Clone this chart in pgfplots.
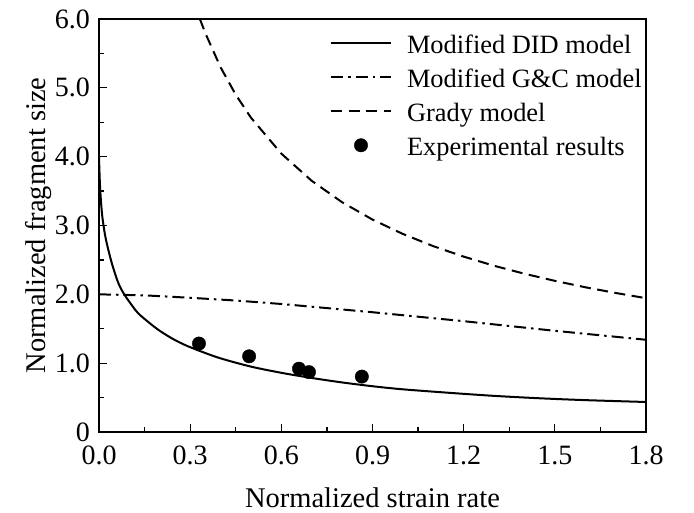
\documentclass[border=0pt]{standalone}
\usepackage{fontspec}
\setmainfont{Liberation Serif}
\usepackage{pgfplots}
\pgfplotsset{compat=1.18}
\begin{document}
\begin{tikzpicture}
\path[use as bounding box] (0,0) rectangle (694bp,513bp);
\begin{axis}[
  at={(99bp,81bp)}, anchor=south west,
  scale only axis, width=547bp, height=413bp,
  xmin=0, xmax=1.8, ymin=0, ymax=6,
  xtick={0,0.3,0.6,0.9,1.2,1.5,1.8},
  xticklabels={0.0,0.3,0.6,0.9,1.2,1.5,1.8},
  minor xtick={0.15,0.45,0.75,1.05,1.35,1.65},
  ytick={0,1,2,3,4,5,6},
  yticklabels={0,1.0,2.0,3.0,4.0,5.0,6.0},
  minor ytick={0.5,1.5,2.5,3.5,4.5,5.5},
  xtick pos=bottom, ytick pos=left,
  tick align=inside,
  major tick length=8bp, minor tick length=4.5bp,
  axis line style={line width=1.3bp},
  every tick/.style={black, line width=1.2bp},
  tick label style={font=\fontsize{28bp}{32bp}\selectfont},
  xticklabel style={inner sep=0pt, anchor=north, yshift=-14bp},
  yticklabel style={inner sep=0pt, anchor=east, xshift=-9bp},
  label style={font=\fontsize{28.5bp}{32bp}\selectfont},
  xlabel={Normalized strain rate},
  ylabel={Normalized fragment size},
  xlabel style={at={(axis description cs:0.5,-0.183)}, anchor=base, inner sep=0pt},
  ylabel style={at={(axis description cs:-0.0987,0.5)}, anchor=base, rotate=0},
  legend cell align=left,
  legend style={draw=none, fill=none, inner sep=0pt, outer sep=0pt,
    at={(axis description cs:0.4223,0.9654)}, anchor=north west,
    row sep=14bp,
    font=\fontsize{26.4bp}{30bp}\selectfont,
    /tikz/every odd column/.append style={column sep=15bp},
    nodes={inner xsep=0pt, inner ysep=0pt, text height=20bp, text depth=0bp}},
  legend image code/.code={\draw[#1] (0bp,0bp) -- (60bp,0bp);},
]
\addplot[black, line width=2bp, smooth, tension=0.5] coordinates {
(0,4.00) (0.001,3.85) (0.003,3.61) (0.006,3.38) (0.011,3.125) (0.02,2.86)
(0.031,2.64) (0.045,2.41) (0.064,2.16) (0.083,2.00) (0.11,1.83) (0.13,1.72)
(0.17,1.57) (0.20,1.47) (0.24,1.36)
(0.28,1.27) (0.33,1.18) (0.40,1.07) (0.50,0.95) (0.60,0.86) (0.70,0.785)
(0.80,0.72) (0.90,0.665) (1.00,0.62) (1.16,0.567) (1.30,0.525) (1.45,0.49)
(1.60,0.463) (1.80,0.436)};
\addlegendentry{Modified DID model}
\addplot[black, line width=2bp, dash pattern=on 12bp off 5bp on 2.5bp off 5bp] coordinates {
(0,2.00) (0.15,1.985) (0.3,1.95) (0.45,1.91) (0.6,1.86) (0.75,1.80) (0.9,1.74)
(1.05,1.675) (1.2,1.61) (1.35,1.54) (1.5,1.47) (1.65,1.405) (1.8,1.34)};
\addlegendentry{Modified G\&C model}
\addplot[black, line width=2bp, dash pattern=on 11bp off 6.5bp] coordinates {
(0.332,6.00) (0.35,5.793) (0.4,5.299) (0.45,4.900) (0.5,4.567) (0.6,4.044)
(0.7,3.649) (0.8,3.338) (0.9,3.086) (1.0,2.877) (1.1,2.700) (1.2,2.548)
(1.3,2.415) (1.4,2.299) (1.5,2.196) (1.6,2.103) (1.7,2.020) (1.8,1.944)};
\addlegendentry{Grady model}
\addplot[black, only marks, mark=*, mark size=6.7bp,
  legend image code/.code={\draw[black, mark=*, mark size=6.7bp, only marks] plot coordinates {(30bp,0bp)};}]
  coordinates {(0.329,1.285) (0.494,1.10) (0.658,0.92) (0.691,0.87) (0.865,0.805)};
\addlegendentry{Experimental results}
\end{axis}
\end{tikzpicture}
\end{document}
